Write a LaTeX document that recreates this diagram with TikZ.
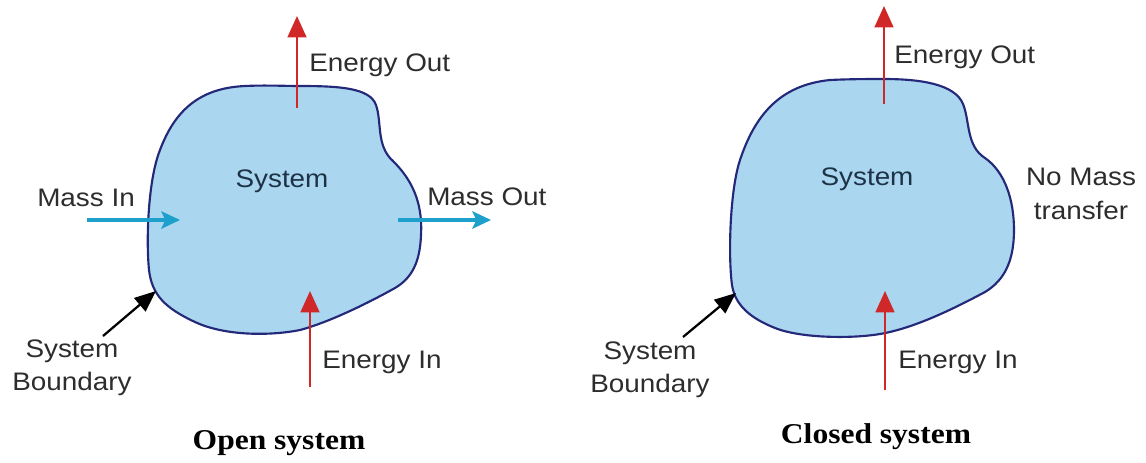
\documentclass[tikz,border=0pt]{standalone}
\usepackage{fontspec}
\usepackage{graphicx}
\setmainfont{Liberation Sans}
\newfontfamily\capfont{Liberation Serif}
\usetikzlibrary{arrows.meta}
\definecolor{blobfill}{RGB}{170,214,240}
\definecolor{blobline}{RGB}{35,40,120}
\definecolor{redarr}{RGB}{208,40,40}
\definecolor{cyanarr}{RGB}{30,160,205}
\definecolor{labeltxt}{RGB}{45,45,45}
\definecolor{systxt}{RGB}{30,50,70}
\newcommand{\wide}[1]{\scalebox{1.1}[1]{#1}}
\begin{document}
\begin{tikzpicture}[x=0.75pt,y=-0.75pt,
  lbl/.style={text=labeltxt, font=\fontsize{19}{24}\selectfont, inner sep=0pt},
  syslbl/.style={text=systxt, font=\fontsize{19}{24}\selectfont, inner sep=0pt},
  caption/.style={text=black, font=\capfont\bfseries\fontsize{21.5}{26}\selectfont, inner sep=0pt},
  blob/.style={fill=blobfill, draw=blobline, line width=1.6pt, line join=round},
  energyarrow/.style={draw=redarr, line width=1.9pt, -{Triangle[length=16pt,width=14pt]}},
  massarrow/.style={draw=cyanarr, line width=2.4pt, -{Stealth[length=14pt,width=13pt,inset=3pt]}},
  bdryarrow/.style={draw=black, line width=1.7pt, -{Triangle[length=16pt,width=13pt]}}
]
\useasboundingbox[fill=white] (0,0) rectangle (1146,462);

% ---------- Open system ----------
\draw[blob] (300,86)
 .. controls (340,86) and (370,88) .. (376,105)
 .. controls (382,122) and (376,146) .. (393,161)
 .. controls (410,178) and (423,200) .. (421,235)
 .. controls (420,262) and (412,278) .. (395,288)
 .. controls (370,302) and (330,322) .. (300,330)
 .. controls (270,336) and (225,336) .. (195,322)
 .. controls (165,308) and (152,295) .. (149,270)
 .. controls (146,240) and (148,180) .. (160,150)
 .. controls (175,110) and (200,88) .. (245,86)
 .. controls (265,85) and (285,86) .. (300,86) -- cycle;

\node[syslbl] (sysA) at (282,181) {\wide{System}};
\node[lbl, anchor=west] (eoutA) at (309,65) {\wide{Energy Out}};
\node[lbl, anchor=west] (einA) at (322,362) {\wide{Energy In}};
\node[lbl, anchor=west] (minA) at (37,198) {\wide{Mass In}};
\node[lbl, anchor=west] (moutA) at (427,197) {\wide{Mass Out}};
\node[lbl, align=center] (bdA) at (72,368) {\wide{System}\\[1pt]\wide{Boundary}};
\node[caption] (capA) at (279,443) {\wide{Open system}};

\coordinate (eoAs) at (297,108);
\coordinate (eoAt) at (297,16);
\coordinate (eiAs) at (310,387);
\coordinate (eiAt) at (310,291);
\coordinate (miAs) at (87,220);
\coordinate (miAt) at (180,220);
\coordinate (moAs) at (398,220);
\coordinate (moAt) at (491,220);
\coordinate (bAs) at (103,336);
\coordinate (bAt) at (156,291);

\draw[energyarrow] (eoAs) -- (eoAt);
\draw[energyarrow] (eiAs) -- (eiAt);
\draw[massarrow] (miAs) -- (miAt);
\draw[massarrow] (moAs) -- (moAt);
\draw[bdryarrow] (bAs) -- (bAt);

% ---------- Closed system ----------
\draw[blob] (884,79)
 .. controls (920,79) and (955,84) .. (963,104)
 .. controls (970,121) and (966,146) .. (985,158)
 .. controls (1005,172) and (1014,200) .. (1014,230)
 .. controls (1014,260) and (1005,280) .. (985,292)
 .. controls (955,308) and (915,328) .. (880,334)
 .. controls (850,339) and (800,338) .. (775,328)
 .. controls (750,318) and (735,305) .. (732,285)
 .. controls (728,255) and (730,190) .. (740,160)
 .. controls (755,115) and (780,85) .. (830,80)
 .. controls (850,79) and (870,79) .. (884,79) -- cycle;

\node[syslbl] (sysB) at (867,179) {\wide{System}};
\node[lbl, anchor=west] (eoutB) at (894,57) {\wide{Energy Out}};
\node[lbl, anchor=west] (einB) at (898,362) {\wide{Energy In}};
\node[lbl, align=center] (nomB) at (1081,194) {\wide{No Mass}\\[1pt]\wide{transfer}};
\node[lbl, align=center] (bdB) at (650,370) {\wide{System}\\[1pt]\wide{Boundary}};
\node[caption] (capB) at (876,437) {\wide{Closed system}};

\coordinate (eoBs) at (884,104);
\coordinate (eoBt) at (884,6);
\coordinate (eiBs) at (885,390);
\coordinate (eiBt) at (885,291);
\coordinate (bBs) at (683,337);
\coordinate (bBt) at (736,293);

\draw[energyarrow] (eoBs) -- (eoBt);
\draw[energyarrow] (eiBs) -- (eiBt);
\draw[bdryarrow] (bBs) -- (bBt);
\end{tikzpicture}
\end{document}
